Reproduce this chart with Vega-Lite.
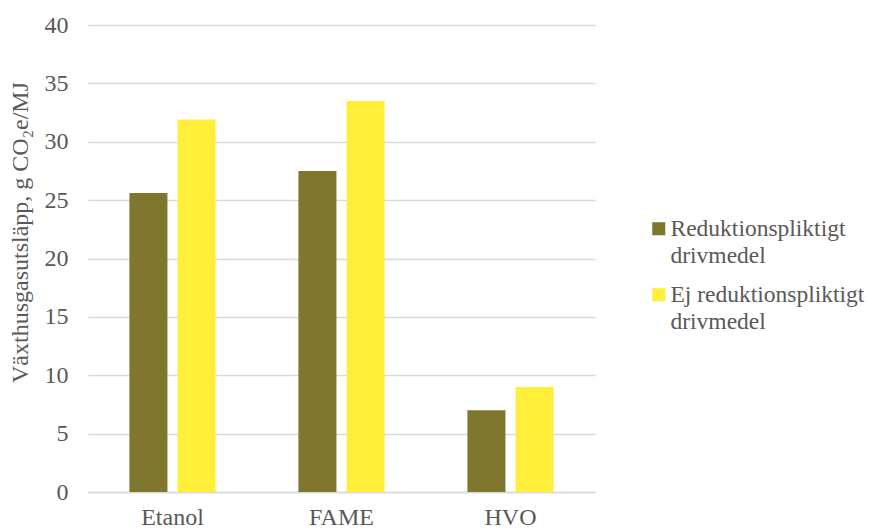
{
  "$schema": "https://vega.github.io/schema/vega-lite/v6.json",
  "width": 507,
  "height": 467,
  "autosize": {"type": "none"},
  "padding": {"left": 88, "top": 25, "right": 275, "bottom": 38},
  "background": "white",
  "config": {
    "view": {"stroke": null},
    "font": "Liberation Serif",
    "axis": {"labelFont": "Liberation Serif", "titleFont": "Liberation Serif", "labelColor": "#595959", "titleColor": "#595959"},
    "legend": {"labelFont": "Liberation Serif"}
  },
  "data": {
    "values": [
      {"bransle": "Etanol", "typ": "Reduktionspliktigt drivmedel", "varde": 25.6},
      {"bransle": "Etanol", "typ": "Ej reduktionspliktigt drivmedel", "varde": 31.9},
      {"bransle": "FAME", "typ": "Reduktionspliktigt drivmedel", "varde": 27.5},
      {"bransle": "FAME", "typ": "Ej reduktionspliktigt drivmedel", "varde": 33.5},
      {"bransle": "HVO", "typ": "Reduktionspliktigt drivmedel", "varde": 7.0},
      {"bransle": "HVO", "typ": "Ej reduktionspliktigt drivmedel", "varde": 9.0}
    ]
  },
  "mark": {"type": "bar"},
  "encoding": {
    "x": {
      "field": "bransle",
      "type": "nominal",
      "sort": ["Etanol", "FAME", "HVO"],
      "scale": {"paddingInner": 0.49, "paddingOuter": 0.245},
      "axis": {
        "title": null,
        "labelAngle": 0,
        "labelFontSize": 24,
        "labelPadding": 13,
        "ticks": false,
        "domainColor": "#d9d9d9",
        "domainWidth": 1.5
      }
    },
    "xOffset": {
      "field": "typ",
      "type": "nominal",
      "sort": ["Reduktionspliktigt drivmedel", "Ej reduktionspliktigt drivmedel"],
      "scale": {"paddingInner": 0.21, "paddingOuter": 0}
    },
    "y": {
      "field": "varde",
      "type": "quantitative",
      "scale": {"domain": [0, 40]},
      "axis": {
        "title": "Växthusgasutsläpp, g CO₂e/MJ",
        "titleFontSize": 24,
        "titleFontWeight": "normal",
        "titleX": -56,
        "titleY": 207,
        "values": [0, 5, 10, 15, 20, 25, 30, 35, 40],
        "labelFontSize": 24,
        "labelPadding": 20,
        "ticks": false,
        "domain": false,
        "gridColor": "#d9d9d9",
        "gridWidth": 1.5
      }
    },
    "color": {
      "field": "typ",
      "type": "nominal",
      "sort": ["Reduktionspliktigt drivmedel", "Ej reduktionspliktigt drivmedel"],
      "scale": {"domain": ["Reduktionspliktigt drivmedel", "Ej reduktionspliktigt drivmedel"], "range": ["#7f772d", "#ffef3b"]},
      "legend": {
        "title": null,
        "orient": "none",
        "legendX": 559,
        "legendY": 192,
        "symbolType": "square",
        "symbolSize": 170,
        "symbolStrokeWidth": 0,
        "labelFontSize": 23.5,
        "labelColor": "#595959",
        "labelOffset": 0,
        "labelLimit": 300,
        "rowPadding": 14,
        "labelExpr": "datum.label == 'Reduktionspliktigt drivmedel' ? ['Reduktionspliktigt', 'drivmedel'] : ['Ej reduktionspliktigt', 'drivmedel']",
        "encode": {"labels": {"update": {"lineHeight": {"value": 27}}}}
      }
    }
  }
}
